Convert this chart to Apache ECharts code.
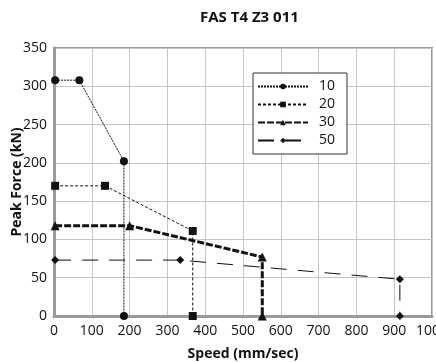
<!DOCTYPE html>
<html>
<head>
<meta charset="utf-8">
<script src="https://cdn.jsdelivr.net/npm/echarts@6/dist/echarts.min.js"></script>
<style>
html, body { margin: 0; padding: 0; background: #fff; }
#chart { width: 436px; height: 362px; }
</style>
</head>
<body>
<div id="chart"></div>
<script>
// values: [speed, peak force]
var s10 = [[3, 308], [67, 308], [185, 202], [185, 0]];
var s20 = [[3, 170], [135, 170], [367, 111], [367, 0]];
var s30 = [[3, 118], [200, 118], [551, 77], [551, 0]];
var s50 = [[3, 73], [334, 73], [915, 48], [915, 0]];
var seriesNames = ['10', '20', '30', '50'];

var font = 'Open Sans';
var ink = '#111';

function line(name, data, symbol, size, width, dash) {
	return {
		name: name,
		type: 'line',
		data: data,
		symbol: symbol,
		symbolSize: size,
		showSymbol: true,
		animation: false,
		itemStyle: { color: ink },
		lineStyle: { color: ink, width: width, type: dash }
	};
}

var chart = echarts.init(document.getElementById('chart'));
chart.setOption({
	backgroundColor: '#fff',
	title: {
		text: 'FAS T4 Z3 011',
		left: 195,
		top: 5,
		textStyle: { fontFamily: font, fontWeight: 'bold', fontSize: 15, color: '#111' }
	},
	grid: {
		left: 54, right: 4, top: 48, bottom: 46,
		outerBoundsMode: 'none',
		containLabel: false,
		show: true,
		borderColor: '#9a9a9a',
		borderWidth: 2
	},
	legend: {
		data: seriesNames,
		orient: 'vertical',
		left: 253,
		top: 73,
		padding: [5, 12, 5, 4],
		itemGap: 1,
		itemWidth: 50,
		itemHeight: 7,
		borderColor: '#333',
		borderWidth: 1,
		backgroundColor: '#fff',
		textStyle: { fontFamily: font, fontSize: 14, color: '#111', padding: [0, 0, 0, 6], lineHeight: 17 }
	},
	xAxis: {
		type: 'value',
		min: 0, max: 1000, interval: 100,
		name: 'Speed (mm/sec)',
		nameLocation: 'middle',
		nameGap: 31,
		nameMoveOverlap: false,
		nameTextStyle: { fontFamily: font, fontWeight: 'bold', fontSize: 14, color: '#111' },
		axisLine: { show: true, onZero: false, lineStyle: { color: '#9a9a9a', width: 3 } },
		axisTick: { show: false },
		axisLabel: {
			fontFamily: font, fontSize: 14, color: '#111', margin: 8,
			showMaxLabel: true, hideOverlap: false,
			formatter: function(v) { return String(v); }
		},
		splitLine: { show: true, lineStyle: { color: '#c4c4c4', width: 1 } }
	},
	yAxis: {
		type: 'value',
		min: 0, max: 350, interval: 50,
		name: 'Peak Force (kN)',
		nameLocation: 'middle',
		nameGap: 30,
		nameMoveOverlap: false,
		nameTextStyle: { fontFamily: font, fontWeight: 'bold', fontSize: 14, color: '#111' },
		axisLine: { show: true, lineStyle: { color: '#9a9a9a', width: 3 } },
		axisTick: { show: false },
		axisLabel: { fontFamily: font, fontSize: 14, color: '#111', margin: 7 },
		splitLine: { show: true, lineStyle: { color: '#c4c4c4', width: 1 } }
	},
	series: [
		line('10', s10, 'circle', 8, 1, [2, 1]),
		line('20', s20, 'rect', 8, 1, [3, 2]),
		line('30', s30, 'triangle', 9, 3, [7, 2]),
		line('50', s50, 'diamond', 8, 1, [16, 11])
	]
});
</script>
</body>
</html>
